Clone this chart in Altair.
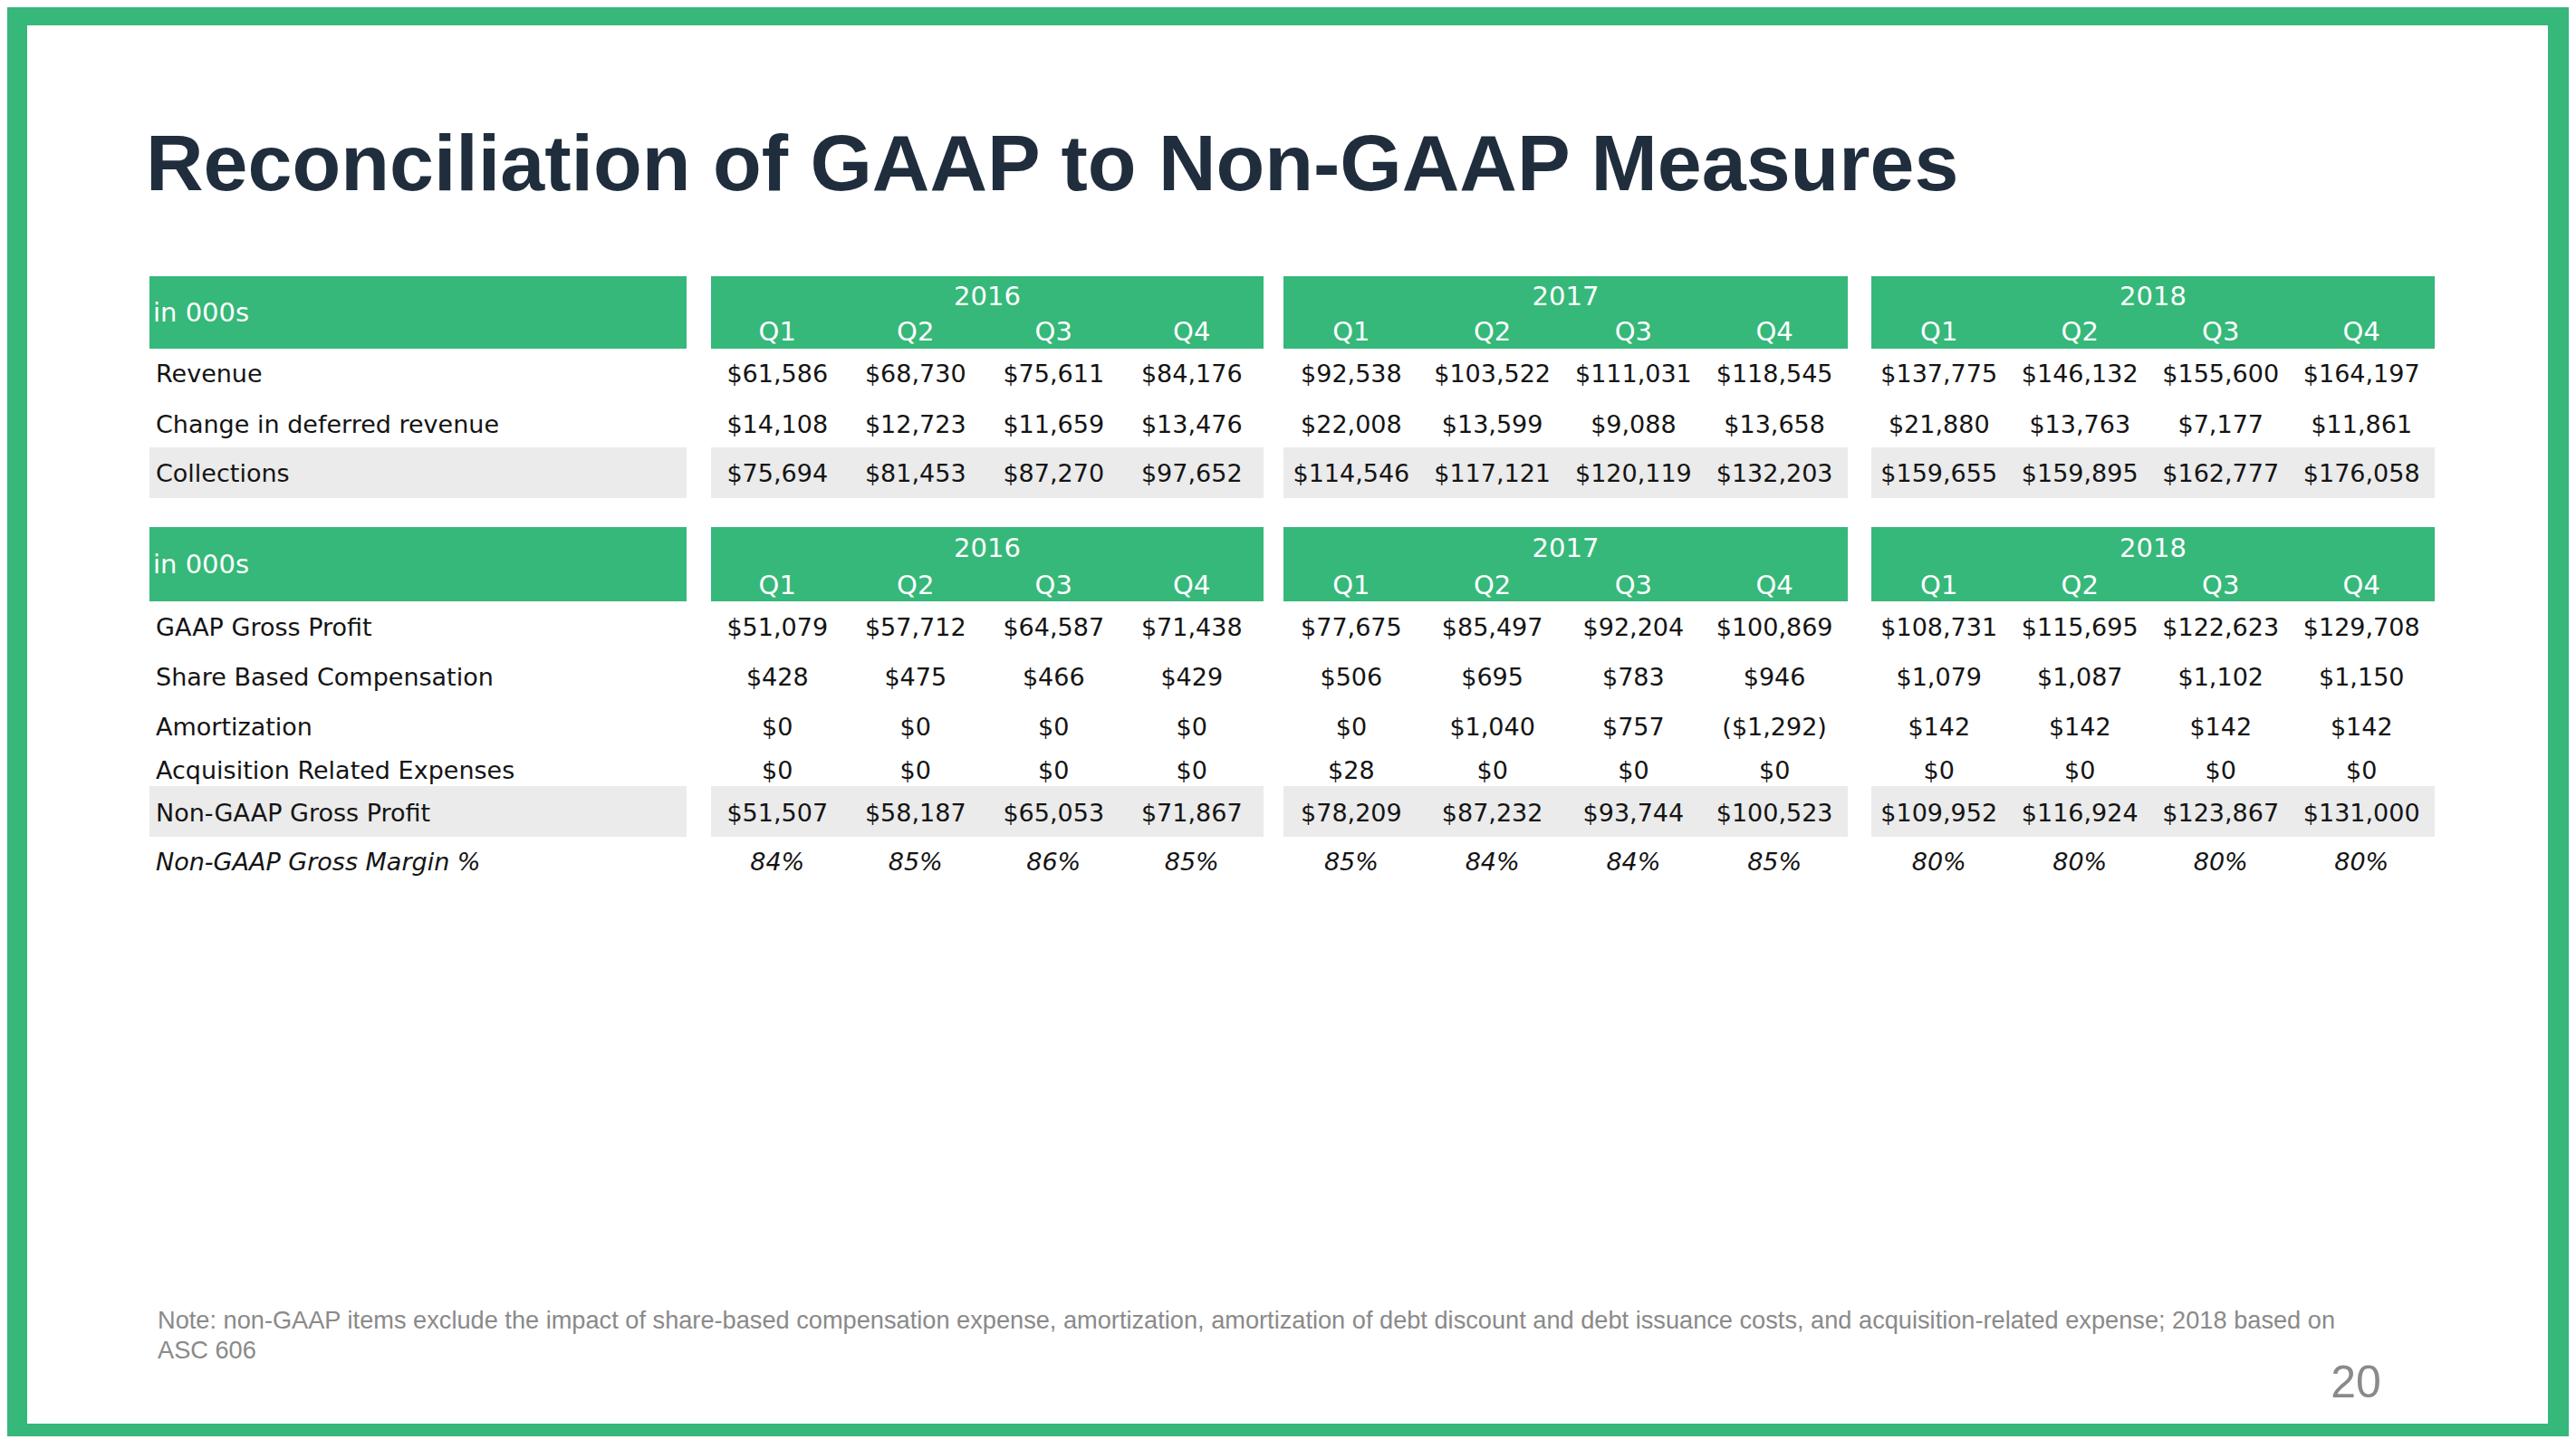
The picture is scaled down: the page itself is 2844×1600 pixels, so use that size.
import altair as alt
import pandas as pd

# ---------------- data ----------------
title = "Reconciliation of GAAP to Non-GAAP Measures"
unit_label = "in 000s"
years = ["2016", "2017", "2018"]
quarters = ["Q1", "Q2", "Q3", "Q4"]

top_rows = ["Revenue", "Change in deferred revenue", "Collections"]
revenue = [61586, 68730, 75611, 84176, 92538, 103522, 111031, 118545, 137775, 146132, 155600, 164197]
deferred_change = [14108, 12723, 11659, 13476, 22008, 13599, 9088, 13658, 21880, 13763, 7177, 11861]
collections = [75694, 81453, 87270, 97652, 114546, 117121, 120119, 132203, 159655, 159895, 162777, 176058]

bottom_rows = ["GAAP Gross Profit", "Share Based Compensation", "Amortization",
               "Acquisition Related Expenses", "Non-GAAP Gross Profit"]
gaap_gross_profit = [51079, 57712, 64587, 71438, 77675, 85497, 92204, 100869, 108731, 115695, 122623, 129708]
share_based_comp = [428, 475, 466, 429, 506, 695, 783, 946, 1079, 1087, 1102, 1150]
amortization = [0, 0, 0, 0, 0, 1040, 757, -1292, 142, 142, 142, 142]
acquisition_exp = [0, 0, 0, 0, 28, 0, 0, 0, 0, 0, 0, 0]
non_gaap_gross_profit = [51507, 58187, 65053, 71867, 78209, 87232, 93744, 100523, 109952, 116924, 123867, 131000]

margin_label = "Non-GAAP Gross Margin %"
margin_pct = [84, 85, 86, 85, 85, 84, 84, 85, 80, 80, 80, 80]

note = ("Note: non-GAAP items exclude the impact of share-based compensation expense, amortization, "
        "amortization of debt discount and debt issuance costs, and acquisition-related expense; 2018 based on\nASC 606")
page_number = "20"

# ---------------- layout / style ----------------
GREEN = "#35b87a"
GRAY = "#ebebeb"
TITLE_COLOR = "#1f2d3d"
TEXT_COLOR = "#141414"
NOTE_COLOR = "#8a8a8a"
TABLE_FONT = "DejaVu Sans"
SANS = "Liberation Sans"

OFF = 8                     # page margin
W, H = 2828, 1578           # keep the whole chart inside the window
INNER = (30, 2813, 28, 1572)
LABEL_BOX = (165, 758)
YEAR_BOXES = [(785, 1395), (1417, 2040), (2066, 2688)]
LABEL_X = 172
UNIT_X = 169

tables = [
    dict(box=(305, 385), year_base=337, q_base=376, unit_base=355,
         row_bases=[422, 477.5, 532], band=(494, 550),
         rows=top_rows, values=[revenue, deferred_change, collections]),
    dict(box=(582, 664), year_base=615, q_base=656, unit_base=633,
         row_bases=[702, 757, 812, 860, 907], band=(868, 924),
         rows=bottom_rows,
         values=[gaap_gross_profit, share_based_comp, amortization, acquisition_exp, non_gaap_gross_profit],
         margin_base=961),
]


def money(v):
    s = f"${abs(v):,}"
    return f"({s})" if v < 0 else s


def col_centers():
    cs = []
    for (l, r) in YEAR_BOXES:
        w = (r - l) / 4
        for i in range(4):
            cs.append(l + (i + 0.5) * w - 3)
    return cs


centers = col_centers()

# rectangles
white_rects = [dict(x=INNER[0], x2=INNER[1], y=INNER[2], y2=INNER[3], fill="#ffffff")]
table_rects = []
for t in tables:
    for (l, r) in [LABEL_BOX] + YEAR_BOXES:
        table_rects.append(dict(x=l, x2=r, y=t["box"][0], y2=t["box"][1], fill=GREEN))
        table_rects.append(dict(x=l, x2=r, y=t["band"][0], y2=t["band"][1], fill=GRAY))

# texts
head_left, head_center, row_labels, cell_values, ital_left, ital_center = [], [], [], [], [], []
for t in tables:
    head_left.append(dict(x=UNIT_X, y=t["unit_base"], t=unit_label))
    for yi, (l, r) in enumerate(YEAR_BOXES):
        head_center.append(dict(x=(l + r) / 2, y=t["year_base"], t=years[yi]))
        for qi, q in enumerate(quarters):
            head_center.append(dict(x=centers[yi * 4 + qi], y=t["q_base"], t=q))
    for ri, (name, vals) in enumerate(zip(t["rows"], t["values"])):
        yb = t["row_bases"][ri]
        row_labels.append(dict(x=LABEL_X, y=yb, t=name))
        for ci, v in enumerate(vals):
            cell_values.append(dict(x=centers[ci], y=yb, t=money(v)))
    if "margin_base" in t:
        ital_left.append(dict(x=LABEL_X, y=t["margin_base"], t=margin_label))
        for ci, v in enumerate(margin_pct):
            ital_center.append(dict(x=centers[ci], y=t["margin_base"], t=f"{v}%"))

xs = alt.Scale(domain=[OFF, OFF + W], range=[0, W], nice=False, zero=False)
ys = alt.Scale(domain=[OFF, OFF + H], range=[0, H], nice=False, zero=False)


def rect_layer(rows):
    return alt.Chart(pd.DataFrame(rows)).mark_rect().encode(
        x=alt.X("x:Q", scale=xs, axis=None),
        x2="x2:Q",
        y=alt.Y("y:Q", scale=ys, axis=None),
        y2="y2:Q",
        color=alt.Color("fill:N", scale=None),
    )


def text_layer(rows, **kw):
    return alt.Chart(pd.DataFrame(rows)).mark_text(baseline="alphabetic", **kw).encode(
        x=alt.X("x:Q", scale=xs, axis=None),
        y=alt.Y("y:Q", scale=ys, axis=None),
        text="t:N",
    )


layers = [
    rect_layer(white_rects),
    rect_layer(table_rects),
    text_layer([dict(x=161, y=210, t=title)], align="left", font=SANS, fontSize=88,
               fontWeight="bold", color=TITLE_COLOR),
    text_layer(head_left, align="left", font=TABLE_FONT, fontSize=29, color="#ffffff"),
    text_layer(head_center, align="center", font=TABLE_FONT, fontSize=29, color="#ffffff"),
    text_layer(row_labels, align="left", font=TABLE_FONT, fontSize=27, color=TEXT_COLOR),
    text_layer(cell_values, align="center", font=TABLE_FONT, fontSize=27, color=TEXT_COLOR),
    text_layer(ital_left, align="left", font=TABLE_FONT, fontSize=27, fontStyle="italic", color=TEXT_COLOR),
    text_layer(ital_center, align="center", font=TABLE_FONT, fontSize=27, fontStyle="italic", color=TEXT_COLOR),
    text_layer([dict(x=174, y=1467, t=note)], align="left", font=SANS, fontSize=27.2,
               color=NOTE_COLOR, lineBreak="\n", lineHeight=33),
    text_layer([dict(x=2601, y=1543, t=page_number)], align="center", font=SANS, fontSize=50,
               color=NOTE_COLOR),
]

chart = alt.layer(*layers).properties(
    width=W, height=H, background=GREEN, padding=0,
    autosize=alt.AutoSizeParams(type="none"),
).configure_view(stroke=None)

chart.save("out.html", embed_options={"renderer": "svg", "actions": False})
